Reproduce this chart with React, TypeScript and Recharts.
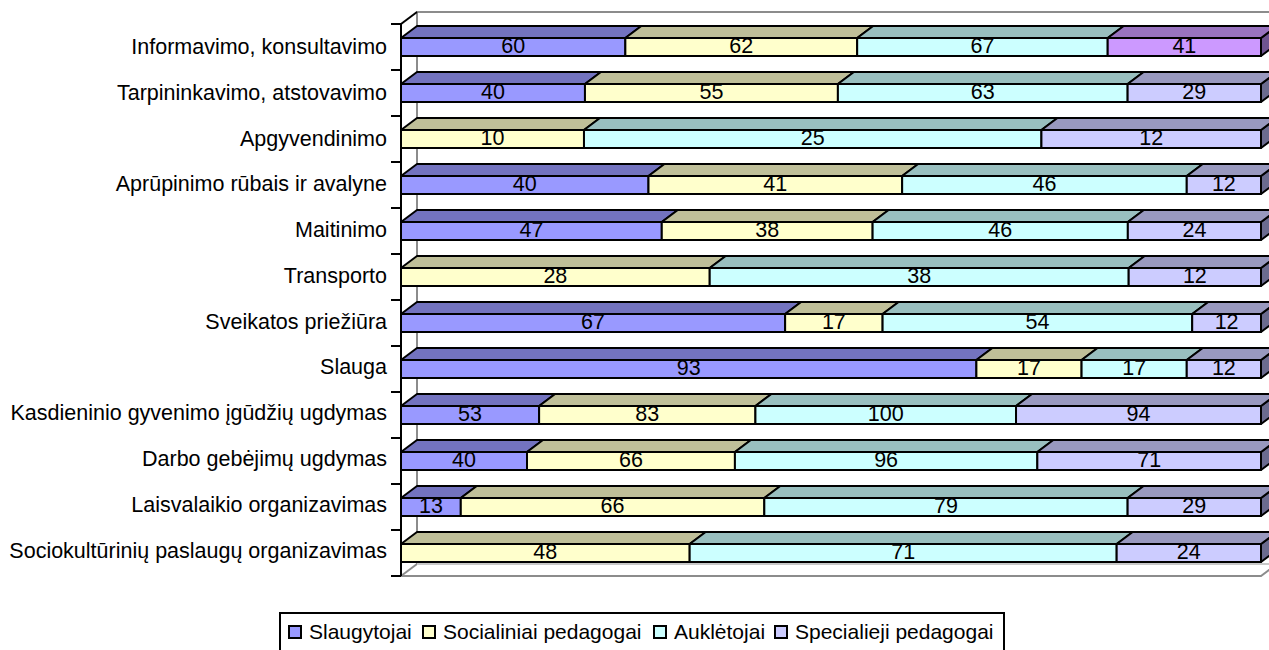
import React from 'react';
import { BarChart, Bar, XAxis, YAxis, Legend, LabelList, usePlotArea } from 'recharts';

const categories = [
  'Informavimo, konsultavimo',
  'Tarpininkavimo, atstovavimo',
  'Apgyvendinimo',
  'Aprūpinimo rūbais ir avalyne',
  'Maitinimo',
  'Transporto',
  'Sveikatos priežiūra',
  'Slauga',
  'Kasdieninio gyvenimo įgūdžių ugdymas',
  'Darbo gebėjimų ugdymas',
  'Laisvalaikio organizavimas',
  'Sociokultūrinių paslaugų organizavimas',
];
const slaugytojai = [60, 40, 0, 40, 47, 0, 67, 93, 53, 40, 13, 0];
const socialiniai = [62, 55, 10, 41, 38, 28, 17, 17, 83, 66, 66, 48];
const aukletojai = [67, 63, 25, 46, 46, 38, 54, 17, 100, 96, 79, 71];
const specialieji = [41, 29, 12, 12, 24, 12, 12, 12, 94, 71, 29, 24];

const seriesNames = ['Slaugytojai', 'Socialiniai pedagogai', 'Auklėtojai', 'Specialieji pedagogai'];
const seriesKeys = ['a', 'b', 'c', 'd'];
const front = ['#9999FF', '#FFFFCC', '#CCFFFF', '#CCCCFF'];
const topFace = ['#7373BF', '#BFBF99', '#99BFBF', '#9999BF'];
const sideFace = ['#5C5C99', '#99997A', '#7A9999', '#6B6B8F'];
const highlight = { front: '#CC99FF', top: '#9973BF', side: '#6F5490' };
const legendItemWidths = [134, 231, 121, 215];

const rows = categories.map((name, i) => ({
  name,
  a: slaugytojai[i],
  b: socialiniai[i],
  c: aukletojai[i],
  d: specialieji[i],
}));

const DX = 16;
const DY = 12;
const FONT = '"Liberation Sans", Arial, sans-serif';
const FONT_SIZE = 21.5;

function makeBox(series: number) {
  return function Box(props: any) {
    const { x, y, width, height, index } = props;
    if (!width || width <= 0) return null;
    const hl = series === 3 && index === 0;
    const f = hl ? highlight.front : front[series];
    const t = hl ? highlight.top : topFace[series];
    const s = hl ? highlight.side : sideFace[series];
    const x2 = x + width;
    const y2 = y + height;
    return (
      <g stroke="#000" strokeWidth={2} strokeLinejoin="round">
        <polygon points={`${x2},${y} ${x2 + DX},${y - DY} ${x2 + DX},${y2 - DY} ${x2},${y2}`} fill={s} />
        <polygon points={`${x},${y} ${x + DX},${y - DY} ${x2 + DX},${y - DY} ${x2},${y}`} fill={t} />
        <rect x={x} y={y} width={width} height={height} fill={f} />
      </g>
    );
  };
}

function Walls() {
  const p = usePlotArea();
  if (!p) return null;
  const l = p.x;
  const r = p.x + p.width;
  const t = p.y;
  const b = p.y + p.height;
  const ticks = categories.map((_, i) => t + (p.height * i) / categories.length).concat(b);
  return (
    <g>
      <g stroke="#8C8C8C" strokeWidth={2} fill="none">
        <polyline points={`${l + DX},${b - DY} ${l + DX},${t - DY} ${r + DX},${t - DY}`} />
        <polyline points={`${l},${b} ${r},${b} ${r + DX},${b - DY}`} />
        <line x1={l} y1={b} x2={l + DX} y2={b - DY} />
        <line x1={l + DX} y1={b - DY} x2={r + DX} y2={b - DY} stroke="#C8C8C8" />
      </g>
      <g stroke="#000" strokeWidth={2}>
        <line x1={l} y1={t} x2={l} y2={b} />
        <line x1={l} y1={t} x2={l + DX} y2={t - DY} />
        {ticks.map((v) => (
          <line key={v} x1={l - 10} y1={v} x2={l} y2={v} />
        ))}
      </g>
    </g>
  );
}

function CategoryTick(props: any) {
  const { x, y, payload, index } = props;
  return (
    <text x={x} y={y + 7 - index * 0.22} textAnchor="end" fontFamily={FONT} fontSize={FONT_SIZE} fill="#000">
      {payload.value}
    </text>
  );
}

function LegendBox() {
  return (
    <div
      style={{
        display: 'flex',
        alignItems: 'center',
        height: 40,
        width: 726,
        boxSizing: 'border-box',
        border: '2px solid #000',
        background: '#fff',
        fontFamily: FONT,
        fontSize: 21,
        color: '#000',
        paddingLeft: 7,
        whiteSpace: 'nowrap',
      }}
    >
      {seriesNames.map((n, i) => (
        <span key={n} style={{ display: 'inline-flex', alignItems: 'center', width: legendItemWidths[i], flex: 'none' }}>
          <span
            style={{
              width: 14,
              height: 14,
              border: '2px solid #000',
              background: front[i],
              marginRight: 7,
              boxSizing: 'border-box',
              flex: 'none',
            }}
          />
          {n}
        </span>
      ))}
    </div>
  );
}

export default function App() {
  return (
    <div style={{ position: 'absolute', left: 0, top: 0, width: 1269, height: 650, background: '#fff', overflow: 'hidden' }}>
      <BarChart
        width={1269}
        height={650}
        data={rows}
        layout="vertical"
        stackOffset="expand"
        barCategoryGap={14}
        margin={{ top: 24, right: 8, bottom: 34, left: 0 }}
      >
        <Walls />
        <XAxis type="number" hide domain={[0, 1]} />
        <YAxis
          type="category"
          dataKey="name"
          width={401}
          interval={0}
          axisLine={false}
          tickLine={false}
          tickMargin={8}
          tick={<CategoryTick />}
        />
        <Legend
          content={<LegendBox />}
          wrapperStyle={{ position: 'absolute', left: 279, top: 612, width: 726, height: 40, bottom: 'auto' }}
        />
        {seriesKeys.map((k, s) => (
          <Bar key={k} dataKey={k} name={seriesNames[s]} stackId="s" barSize={18} shape={makeBox(s)} isAnimationActive={false}>
            <LabelList
              dataKey={k}
              position="center"
              formatter={(v: any) => (v ? String(v) : '')}
              style={{ fontFamily: FONT, fontSize: FONT_SIZE, fill: '#000', transform: 'translateY(-2px)' }}
            />
          </Bar>
        ))}
      </BarChart>
    </div>
  );
}
